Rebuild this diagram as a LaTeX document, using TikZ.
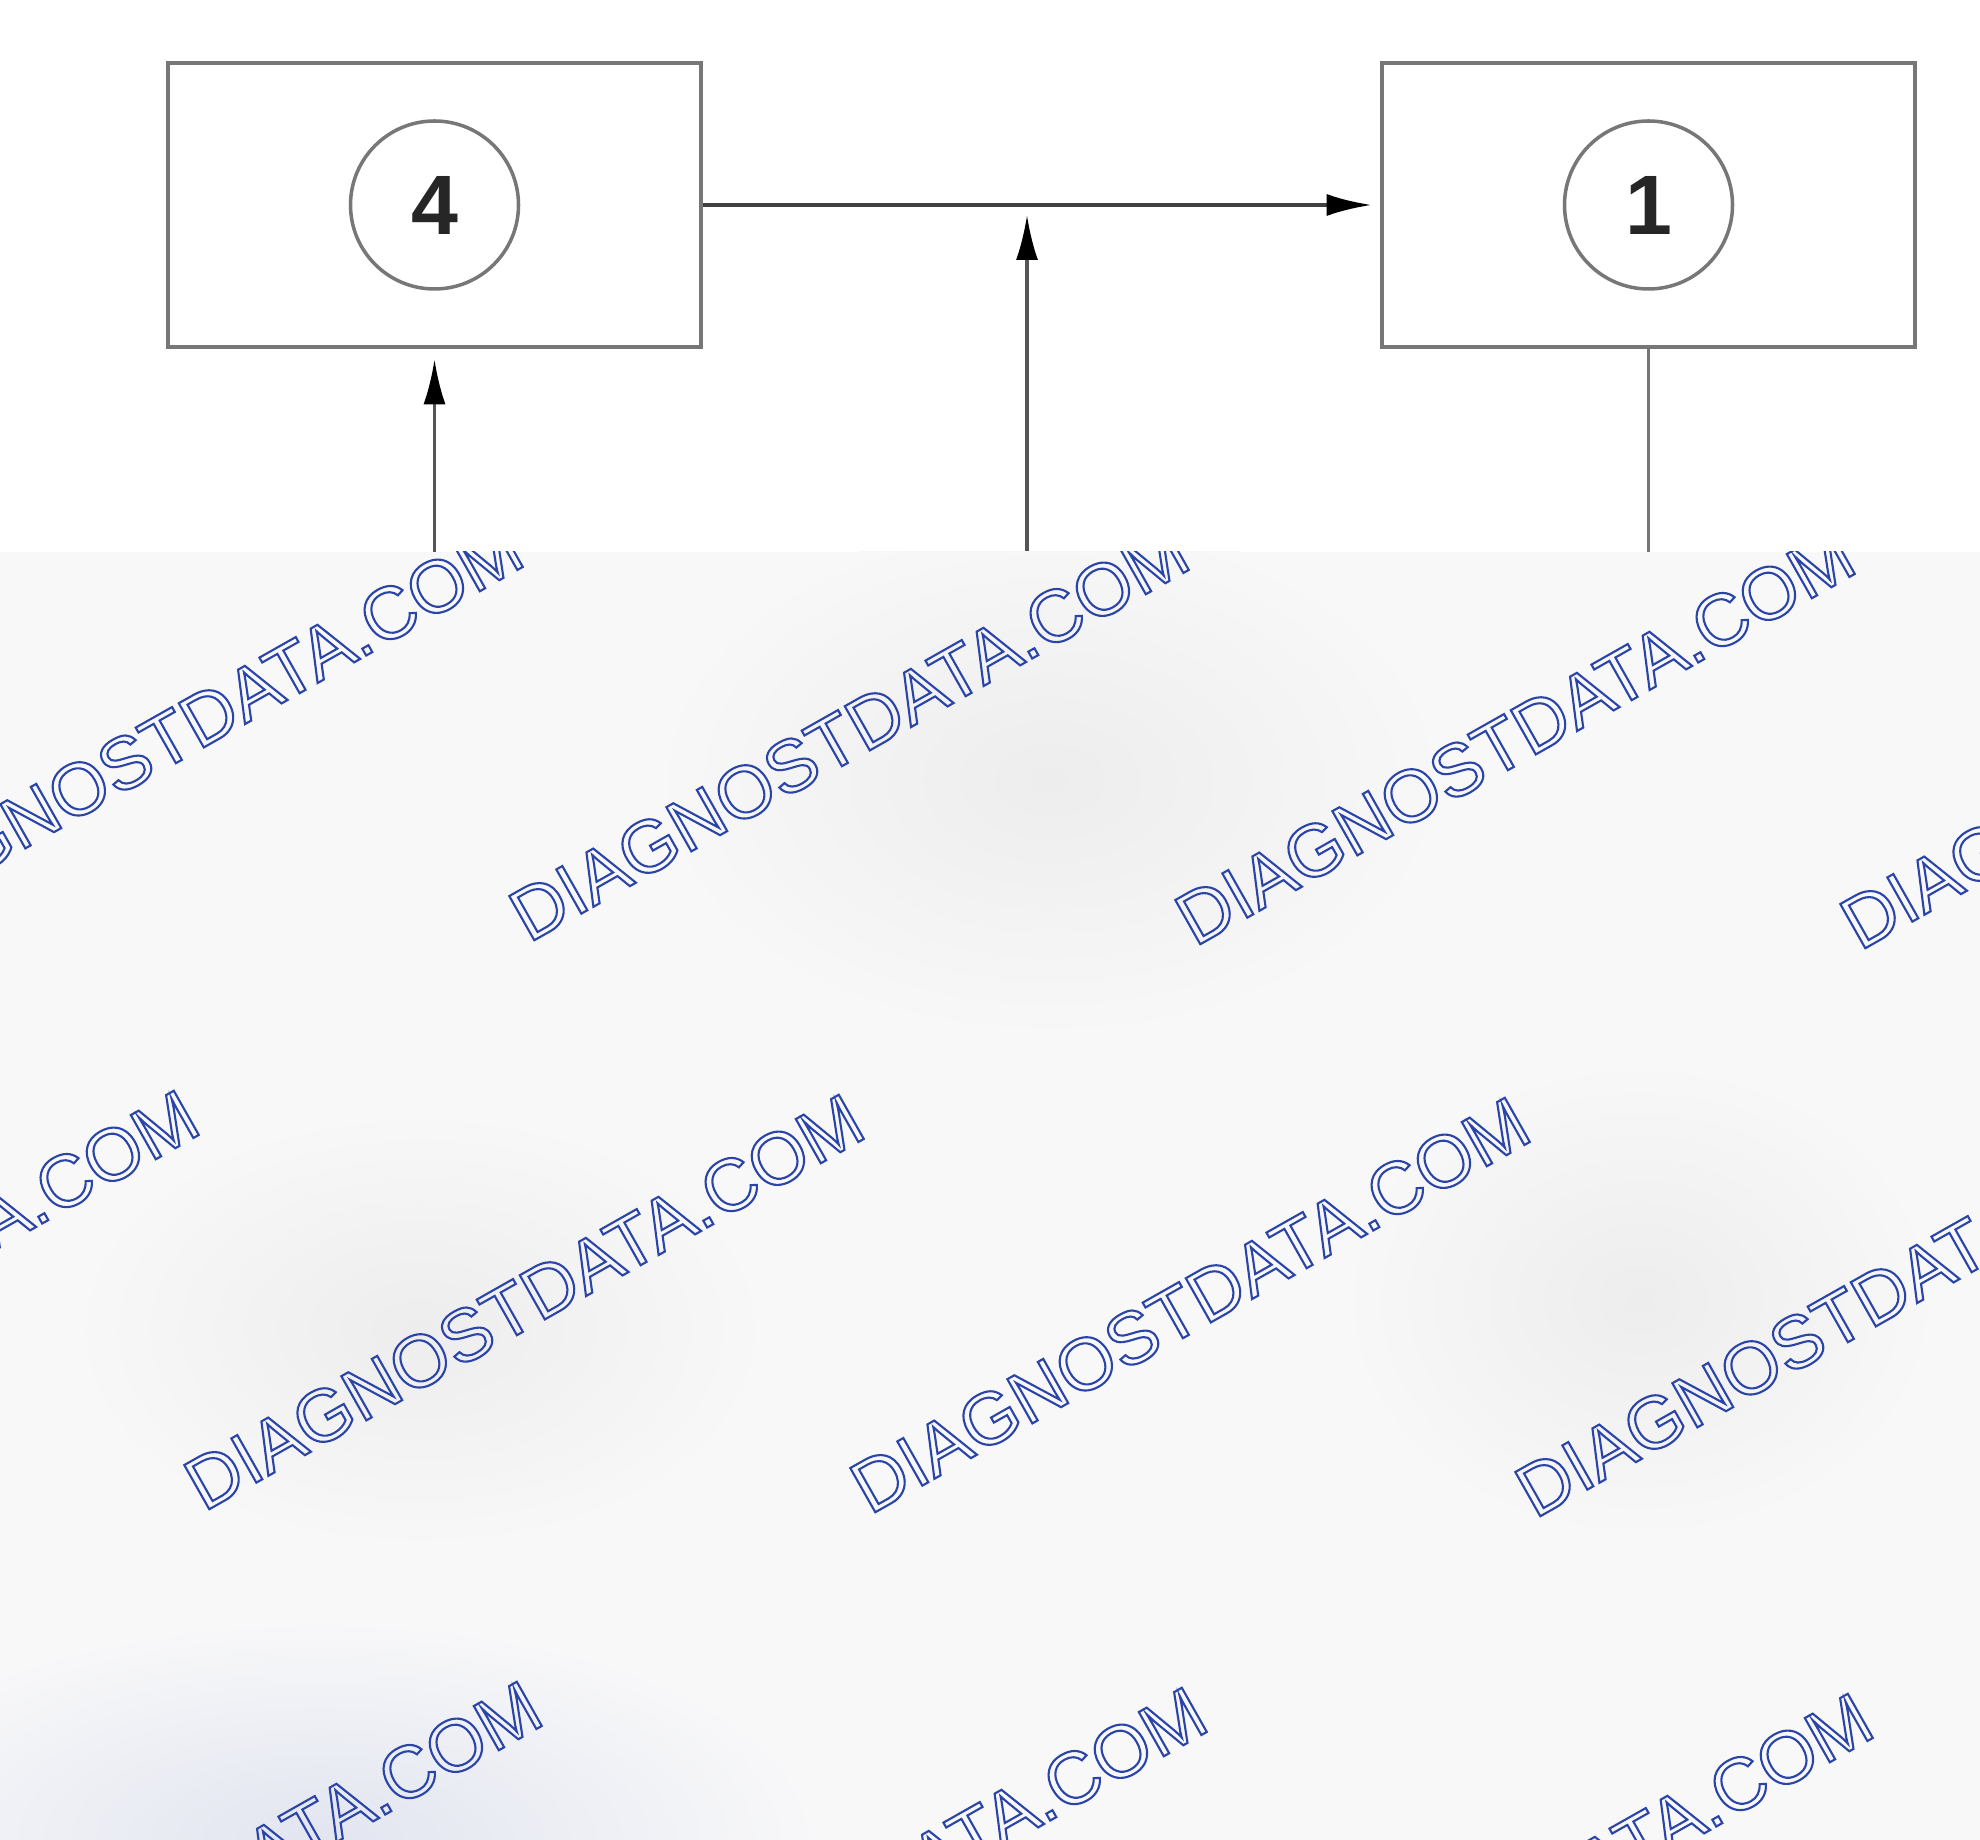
\documentclass[tikz,border=0pt]{standalone}
\usepackage{fontspec}
\setmainfont{Liberation Sans}
\usetikzlibrary{arrows.meta}

\definecolor{boxgray}{HTML}{777777}
\definecolor{linegray}{HTML}{555555}
\definecolor{veil}{HTML}{F8F8F9}
\definecolor{veildark}{HTML}{EDEDEE}
\definecolor{veilblue}{HTML}{E2E5F0}
\definecolor{markblue}{HTML}{2A44A8}
% hollow letters: stroke only
\newcommand\hollow[1]{\special{pdf:literal direct 1 Tr 0.6 w}#1\special{pdf:literal direct 0 Tr}}

\begin{document}
\begin{tikzpicture}[
  blk/.style={draw=boxgray,line width=1.3pt,minimum width=5.33cm,minimum height=2.84cm,inner sep=0pt},
  num/.style={draw=boxgray,line width=1pt,circle,minimum size=1.68cm,inner sep=0pt,
    font=\fontsize{24}{24}\selectfont\bfseries,text=black!85},
  arr/.style={draw=linegray,line width=0.95pt,-{Latex[length=4.5mm,width=2.2mm,color=black]}},
  wire/.style={draw=boxgray,line width=0.95pt},
  wmark/.style={rotate=29.5,font=\fontsize{21}{21}\selectfont,inner sep=0pt,text=markblue}
]
\useasboundingbox (0,0) rectangle (19.8,-18.4);
\fill[white] (0,0) rectangle (19.8,-18.4);

% the two blocks
\node[blk] (lbox) at (4.345,-2.05) {};
\node[num] (four) at (lbox) {4};
\node[blk] (rbox) at (16.485,-2.05) {};
\node[num] (one) at (rbox) {1};

% connections
\coordinate (jn) at (10.27,-2.05);
\coordinate (lbot) at (4.345,-5.52);
\coordinate (mbot) at (10.27,-5.52);
\coordinate (rbot) at (16.485,-5.52);

\draw[arr,draw=black!75,line width=1.1pt,shorten >=0.08cm] (lbox.east) -- (rbox.west);
\draw[arr,shorten >=0.1cm] (mbot) -- (jn);
\draw[arr,shorten >=0.1cm] (lbot) -- (lbox.south);
\draw[wire] (rbox.south) -- (rbot);

% lower veil with marks
\fill[veil] (0,-5.52) rectangle (19.8,-18.4);
\begin{scope}
\clip (0,-5.52) rectangle (19.8,-18.4);
\shade[inner color=veildark,outer color=veil] (10.5,-7.8) ellipse (4cm and 2.6cm);
\shade[inner color=veildark,outer color=veil] (4.2,-13.3) ellipse (3.5cm and 2.2cm);
\shade[inner color=veildark,outer color=veil] (16.4,-13.0) ellipse (3cm and 2.4cm);
\shade[inner color=veilblue,outer color=veil] (3.2,-18.4) ellipse (5cm and 2.2cm);
\foreach \x/\y [count=\k] in {1.83/-7.30, 8.49/-7.33, 15.15/-7.37, 21.80/-7.41,
    -1.41/-12.98, 5.24/-13.02, 11.90/-13.05, 18.55/-13.09,
    -4.66/-18.87, 2.02/-18.89, 8.67/-18.95, 15.33/-19.01}
  \node[wmark] (wm\k) at (\x,\y) {\hollow{DIAGNOSTDATA.COM}};
\end{scope}

\end{tikzpicture}
\end{document}
